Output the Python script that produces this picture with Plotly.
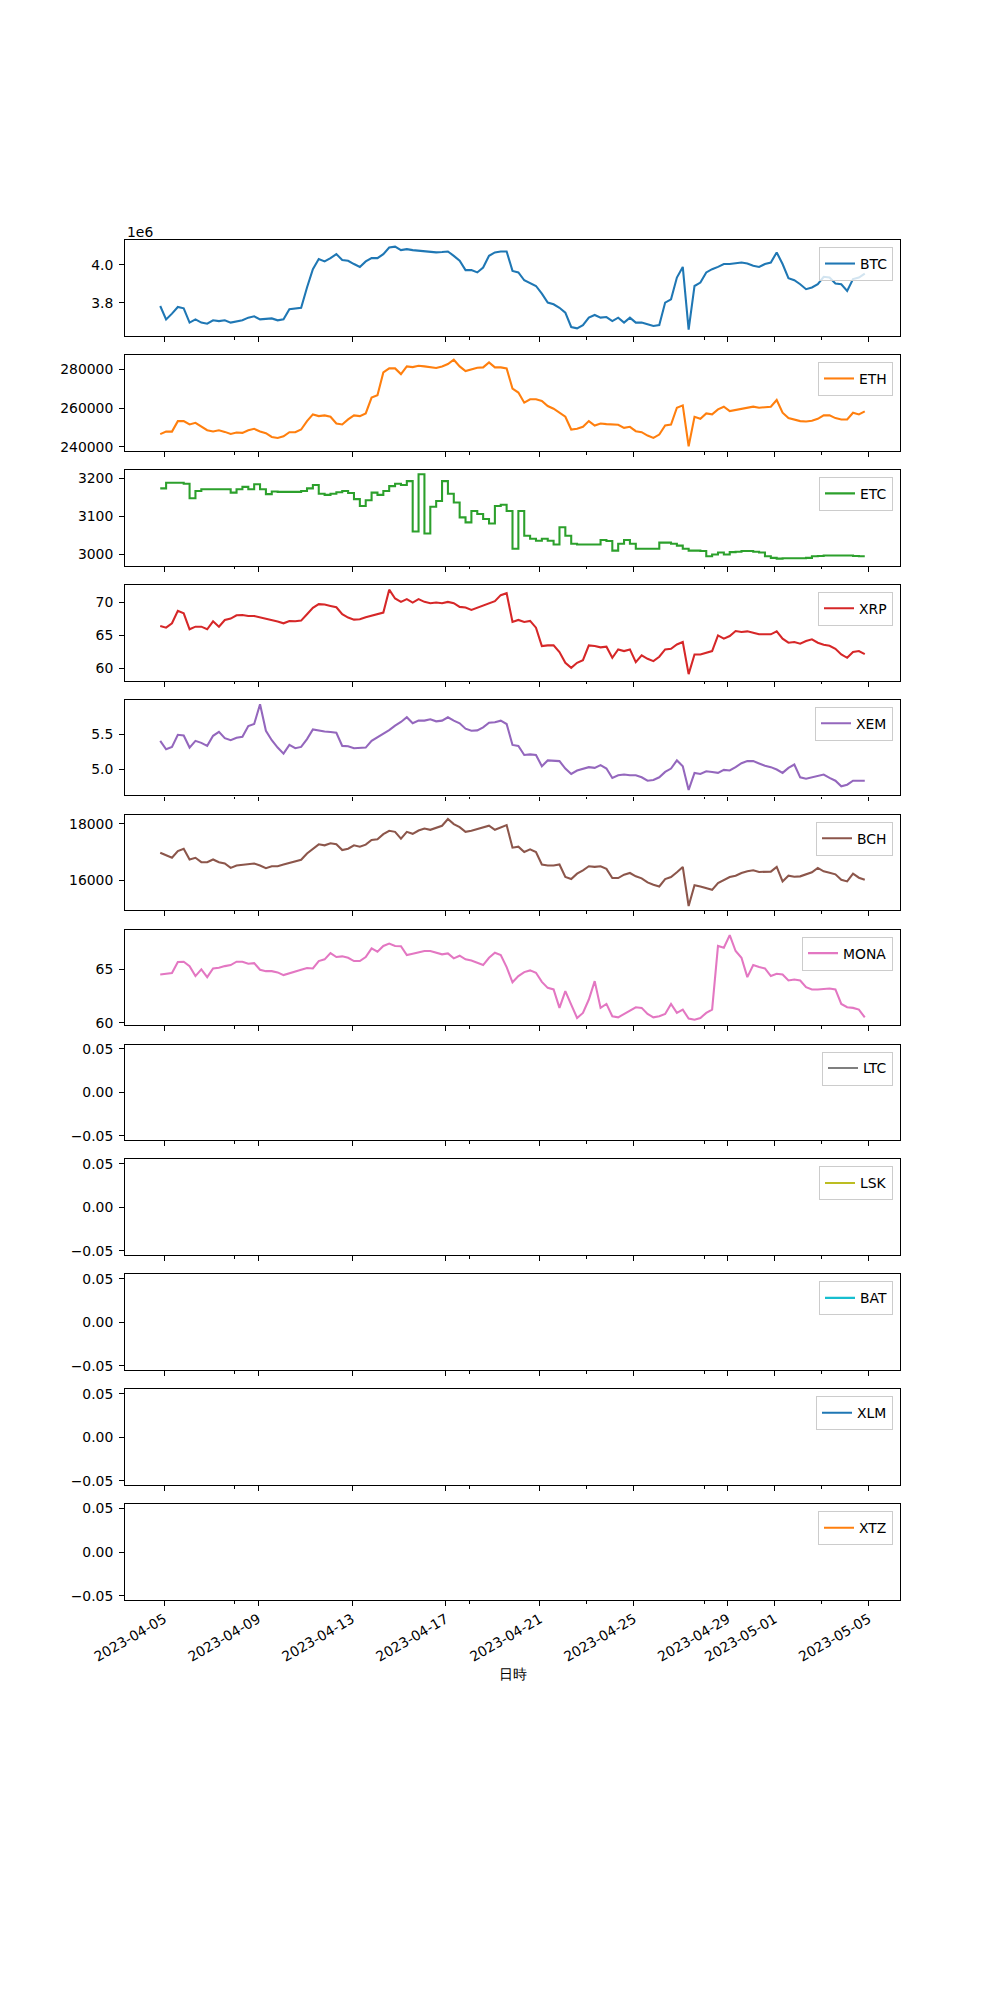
import pandas as pd
import plotly.graph_objects as go

# ---------------- data ----------------
times = pd.date_range("2023-04-04 20:00", periods=121, freq="6h")

BTC = [3784000, 3714000, 3744000, 3779000, 3772000, 3697000, 3714000, 3697000, 3691000, 3709000,
       3705000, 3709000, 3697000, 3705000, 3709000, 3723000, 3730000, 3714000, 3716000, 3719000,
       3709000, 3714000, 3767000, 3772000, 3775000, 3881000, 3977000, 4030000, 4018000, 4035000,
       4056000, 4025000, 4021000, 4004000, 3989000, 4018000, 4035000, 4035000, 4056000, 4091000,
       4095000, 4077000, 4082000, 4077000, 4074000, 4070000, 4067000, 4065000, 4067000, 4070000,
       4047000, 4021000, 3972000, 3972000, 3960000, 3986000, 4047000, 4065000, 4070000, 4070000,
       3968000, 3960000, 3919000, 3902000, 3889000, 3849000, 3802000, 3793000, 3775000, 3749000,
       3674000, 3667000, 3684000, 3723000, 3737000, 3723000, 3726000, 3705000, 3723000, 3697000,
       3723000, 3697000, 3697000, 3688000, 3679000, 3684000, 3802000, 3819000, 3933000, 3989000,
       3660000, 3889000, 3907000, 3960000, 3977000, 3989000, 4004000, 4004000, 4007000, 4012000,
       4007000, 3995000, 3989000, 4004000, 4012000, 4065000, 4004000, 3930000, 3919000, 3898000,
       3872000, 3881000, 3898000, 3937000, 3933000, 3902000, 3898000, 3863000, 3925000, 3933000,
       3954000]

ETH = [246500, 247800, 247800, 253220, 253220, 251480, 252350, 250260, 248520, 247830,
       248520, 247650, 246610, 247300, 247130, 248520, 249220, 247830, 246960, 245040,
       244520, 245390, 247480, 247480, 248870, 253220, 256700, 255830, 256180, 255480,
       252000, 251480, 254090, 256180, 255830, 257220, 265390, 266610, 278430, 280520,
       280520, 277560, 281560, 281210, 281910, 281560, 281210, 280700, 281560, 282780,
       285000, 281560, 279130, 279830, 280870, 281040, 283650, 281040, 281040, 280520,
       270090, 268000, 262780, 264520, 264520, 263650, 261040, 259650, 257570, 255480,
       248870, 249220, 250260, 253220, 250960, 252000, 251650, 251480, 251310, 249740,
       250260, 248000, 247480, 245740, 244520, 246260, 250960, 251480, 260170, 261390,
       240200, 255480, 254430, 257220, 256700, 259310, 260700, 258440, 258960, 259650,
       260170, 260700, 260170, 260350, 260700, 264180, 257570, 254780, 254090, 253220,
       253050, 253390, 254430, 256180, 256180, 254780, 254090, 254090, 257570, 256700,
       258260]

ETC = [3173, 3188, 3188, 3188, 3185, 3147, 3166, 3171, 3171, 3171,
       3171, 3171, 3162, 3171, 3177, 3171, 3184, 3171, 3158, 3165,
       3164, 3164, 3164, 3164, 3166, 3173, 3182, 3159, 3156, 3159,
       3163, 3166, 3161, 3145, 3127, 3142, 3162, 3156, 3166, 3179,
       3185, 3182, 3192, 3060, 3210, 3055, 3125, 3140, 3192, 3159,
       3136, 3097, 3084, 3114, 3106, 3093, 3081, 3127, 3130, 3114,
       3015, 3114, 3049, 3041, 3036, 3041, 3036, 3026, 3071, 3049,
       3028, 3026, 3026, 3026, 3026, 3038, 3035, 3010, 3028, 3038,
       3028, 3015, 3015, 3015, 3015, 3031, 3031, 3028, 3023, 3015,
       3010, 3010, 3009, 2995, 3000, 3005, 3000, 3006, 3007, 3009,
       3009, 3007, 3005, 2995, 2991, 2989, 2990, 2990, 2990, 2990,
       2991, 2995, 2996, 2997, 2997, 2997, 2997, 2997, 2996, 2995,
       2995]

XRP = [66.40, 66.14, 66.80, 68.68, 68.32, 65.89, 66.29, 66.29, 65.89, 67.11,
       66.29, 67.31, 67.51, 68.02, 68.07, 67.92, 67.92, 67.72, 67.41, 67.31,
       67.06, 66.80, 67.16, 67.11, 67.21, 68.17, 69.14, 69.70, 69.64, 69.44,
       69.24, 68.17, 67.67, 67.36, 67.41, 67.72, 67.92, 68.17, 68.43, 71.90,
       70.56, 70.05, 70.46, 69.95, 70.46, 70.05, 69.85, 69.95, 69.85, 70.05,
       69.85, 69.29, 69.19, 68.83, 69.14, 69.44, 69.75, 70.15, 71.07, 71.37,
       67.00, 67.31, 67.00, 67.16, 66.14, 63.35, 63.45, 63.45, 62.44, 60.81,
       60.05, 60.81, 61.22, 63.45, 63.35, 63.15, 63.25, 61.57, 62.84, 62.59,
       62.84, 60.91, 61.93, 61.42, 61.07, 61.73, 62.84, 62.94, 63.60, 63.96,
       59.10, 62.08, 62.08, 62.33, 62.59, 64.97, 64.47, 64.87, 65.63, 65.48,
       65.58, 65.38, 65.13, 65.13, 65.13, 65.58, 64.47, 63.86, 63.96, 63.71,
       64.11, 64.37, 63.86, 63.55, 63.40, 62.94, 62.08, 61.57, 62.44, 62.59,
       62.13]

XEM = [5.409, 5.288, 5.322, 5.495, 5.486, 5.313, 5.409, 5.380, 5.337, 5.481,
       5.538, 5.447, 5.418, 5.452, 5.466, 5.620, 5.649, 5.930, 5.553, 5.418,
       5.313, 5.226, 5.351, 5.303, 5.322, 5.433, 5.572, 5.553, 5.543, 5.534,
       5.524, 5.337, 5.332, 5.303, 5.313, 5.313, 5.409, 5.457, 5.505, 5.562,
       5.625, 5.678, 5.745, 5.659, 5.697, 5.697, 5.716, 5.687, 5.697, 5.745,
       5.697, 5.659, 5.582, 5.553, 5.558, 5.601, 5.668, 5.673, 5.697, 5.649,
       5.351, 5.337, 5.207, 5.216, 5.207, 5.048, 5.130, 5.130, 5.120, 5.014,
       4.937, 4.986, 5.014, 5.034, 5.024, 5.063, 5.014, 4.880, 4.918, 4.928,
       4.918, 4.918, 4.889, 4.841, 4.851, 4.889, 4.966, 5.014, 5.130, 5.048,
       4.710, 4.952, 4.937, 4.976, 4.966, 4.952, 4.995, 4.986, 5.034, 5.091,
       5.120, 5.120, 5.087, 5.053, 5.034, 5.000, 4.952, 5.024, 5.072, 4.889,
       4.870, 4.889, 4.918, 4.928, 4.880, 4.841, 4.760, 4.784, 4.841, 4.841,
       4.841]

BCH = [16976, 16881, 16798, 17036, 17119, 16738, 16798, 16643, 16643, 16738,
       16643, 16595, 16440, 16524, 16548, 16560, 16595, 16524, 16429, 16500,
       16500, 16560, 16619, 16667, 16726, 16952, 17119, 17274, 17238, 17310,
       17274, 17071, 17119, 17238, 17190, 17262, 17429, 17452, 17631, 17750,
       17714, 17476, 17714, 17643, 17762, 17833, 17786, 17857, 17929, 18167,
       17988, 17881, 17714, 17750, 17810, 17869, 17929, 17786, 17869, 17952,
       17155, 17190, 17000, 17095, 17000, 16560, 16524, 16524, 16560, 16119,
       16048, 16238, 16357, 16500, 16476, 16500, 16405, 16083, 16083, 16202,
       16262, 16143, 16071, 15929, 15845, 15786, 16048, 16119, 16286, 16476,
       15095, 15833, 15786, 15726, 15667, 15905, 16000, 16119, 16167, 16262,
       16321, 16357, 16298, 16310, 16310, 16476, 15964, 16167, 16131, 16143,
       16202, 16286, 16440, 16321, 16274, 16214, 16024, 15964, 16238, 16095,
       16024]

MONA = [64.53, 64.59, 64.66, 65.69, 65.72, 65.31, 64.38, 65.00, 64.28, 65.09,
        65.16, 65.31, 65.41, 65.72, 65.72, 65.53, 65.59, 64.97, 64.84, 64.84,
        64.72, 64.47, 64.66, 64.84, 64.97, 65.13, 65.09, 65.78, 65.94, 66.53,
        66.16, 66.22, 66.09, 65.78, 65.78, 66.16, 66.97, 66.66, 67.19, 67.41,
        67.19, 67.16, 66.34, 66.47, 66.59, 66.72, 66.72, 66.56, 66.41, 66.50,
        66.03, 66.28, 65.94, 65.84, 65.66, 65.41, 66.09, 66.56, 66.34, 65.22,
        63.80, 64.38, 64.75, 64.91, 64.69, 63.84, 63.28, 63.13, 61.41, 62.97,
        61.72, 60.47, 60.94, 62.19, 63.91, 61.41, 61.78, 60.63, 60.53, 60.84,
        61.09, 61.47, 61.41, 60.84, 60.53, 60.63, 60.84, 61.78, 60.94, 61.25,
        60.41, 60.31, 60.47, 60.94, 61.25, 67.19, 67.03, 68.20, 66.72, 66.09,
        64.28, 65.41, 65.22, 65.09, 64.38, 64.59, 64.53, 63.97, 64.06, 63.97,
        63.34, 63.13, 63.13, 63.19, 63.22, 63.13, 61.78, 61.47, 61.41, 61.25,
        60.53]

# these five series contain no values at all (all missing)
LTC = [None] * len(times)
LSK = [None] * len(times)
BAT = [None] * len(times)
XLM = [None] * len(times)
XTZ = [None] * len(times)

series_names = ["BTC", "ETH", "ETC", "XRP", "XEM", "BCH", "MONA",
                "LTC", "LSK", "BAT", "XLM", "XTZ"]
series_values = [BTC, ETH, ETC, XRP, XEM, BCH, MONA, LTC, LSK, BAT, XLM, XTZ]

x_major_ticks = ["2023-04-05", "2023-04-09", "2023-04-13", "2023-04-17", "2023-04-21",
                 "2023-04-25", "2023-04-29", "2023-05-01", "2023-05-05"]
x_minor_ticks = ["2023-04-08", "2023-04-18", "2023-04-23", "2023-04-28", "2023-05-03"]
x_label = "日時"

empty_ticks = ([-0.05, 0.0, 0.05], ["\u22120.05", "0.00", "0.05"])
y_ticks = {
    "BTC": ([3.8e6, 4.0e6], ["3.8", "4.0"]),
    "ETH": ([240000, 260000, 280000], ["240000", "260000", "280000"]),
    "ETC": ([3000, 3100, 3200], ["3000", "3100", "3200"]),
    "XRP": ([60, 65, 70], ["60", "65", "70"]),
    "XEM": ([5.0, 5.5], ["5.0", "5.5"]),
    "BCH": ([16000, 18000], ["16000", "18000"]),
    "MONA": ([60, 65], ["60", "65"]),
}

# ---------------- styling / layout ----------------
colors = ["#1f77b4", "#ff7f0e", "#2ca02c", "#d62728", "#9467bd", "#8c564b",
          "#e377c2", "#7f7f7f", "#bcbd22", "#17becf", "#1f77b4", "#ff7f0e"]
y_ranges = {
    "BTC": [3.628e6, 4.130e6],
    "ETH": [237900, 287500],
    "ETC": [2970.6, 3221.6],
    "XRP": [58.12, 72.64],
    "XEM": [4.63, 5.995],
    "BCH": [14940, 18321],
    "MONA": [59.78, 68.72],
}
x_range = ["2023-04-03 08:00", "2023-05-06 08:00"]

W, H = 1000, 2000
LEFT, RIGHT = 125, 900
TOP, BOTTOM = 240, 1600
n = len(series_names)
ph = (BOTTOM - TOP) / (n + (n - 1) * 0.2)
gap = 0.2 * ph
FONT = dict(family="DejaVu Sans", size=13.9, color="black")

fig = go.Figure()
layout = dict(
    width=W, height=H,
    margin=dict(l=0, r=0, t=0, b=0),
    paper_bgcolor="white", plot_bgcolor="white",
    font=FONT, showlegend=True,
)

for i, (name, vals) in enumerate(zip(series_names, series_values)):
    sfx = "" if i == 0 else str(i + 1)
    top = TOP + i * (ph + gap)
    bot = top + ph
    fig.add_trace(go.Scatter(
        x=list(times[:len(vals)]), y=vals, mode="lines", name=name,
        line=dict(color=colors[i], width=2.08, shape="hv" if name == "ETC" else "linear"),
        xaxis="x" + sfx, yaxis="y" + sfx, legend="legend" + sfx,
        hoverinfo="skip", showlegend=True,
    ))
    xa = dict(
        domain=[LEFT / W, RIGHT / W], anchor="y" + sfx, type="date",
        range=x_range, tickmode="array", tickvals=x_major_ticks, ticktext=x_major_ticks,
        showticklabels=(i == n - 1), tickangle=-30,
        ticks="outside", ticklen=4.9, tickwidth=1.1, tickcolor="black",
        showline=True, linecolor="black", linewidth=1.1, mirror=True,
        showgrid=False, zeroline=False, automargin=False, tickfont=FONT,
        minor=dict(tickmode="array", tickvals=x_minor_ticks, ticks="outside",
                   ticklen=2.8, tickwidth=1.1, tickcolor="black", showgrid=False),
    )
    if i > 0:
        xa["matches"] = "x"
    tv, tt = y_ticks.get(name, empty_ticks)
    ya = dict(
        domain=[1 - bot / H, 1 - top / H], anchor="x" + sfx,
        range=y_ranges.get(name, [-0.055, 0.055]),
        tickmode="array", tickvals=tv, ticktext=tt,
        ticks="outside", ticklen=4.9, tickwidth=1.1, tickcolor="black",
        showline=True, linecolor="black", linewidth=1.1, mirror=True,
        showgrid=False, zeroline=False, automargin=False, tickfont=FONT,
        ticklabelstandoff=3,
    )
    layout["xaxis" + sfx] = xa
    layout["yaxis" + sfx] = ya
    layout["legend" + sfx] = dict(
        x=(RIGHT - 7) / W, xanchor="right", y=1 - (top + 7) / H, yanchor="top",
        bgcolor="rgba(255,255,255,0.8)", bordercolor="#cccccc", borderwidth=1,
        font=FONT, itemwidth=30,
    )

layout["annotations"] = [
    dict(text="1e6", x=LEFT / W, y=1 - 232 / H, xref="paper", yref="paper",
         xanchor="left", yanchor="middle", showarrow=False, font=FONT),
    dict(text=x_label, x=(LEFT + RIGHT) / 2 / W, y=1 - 1674 / H, xref="paper", yref="paper",
         xanchor="center", yanchor="middle", showarrow=False, font=FONT),
]

fig.update_layout(**layout)
fig.write_html("out.html", config={"displayModeBar": False})
